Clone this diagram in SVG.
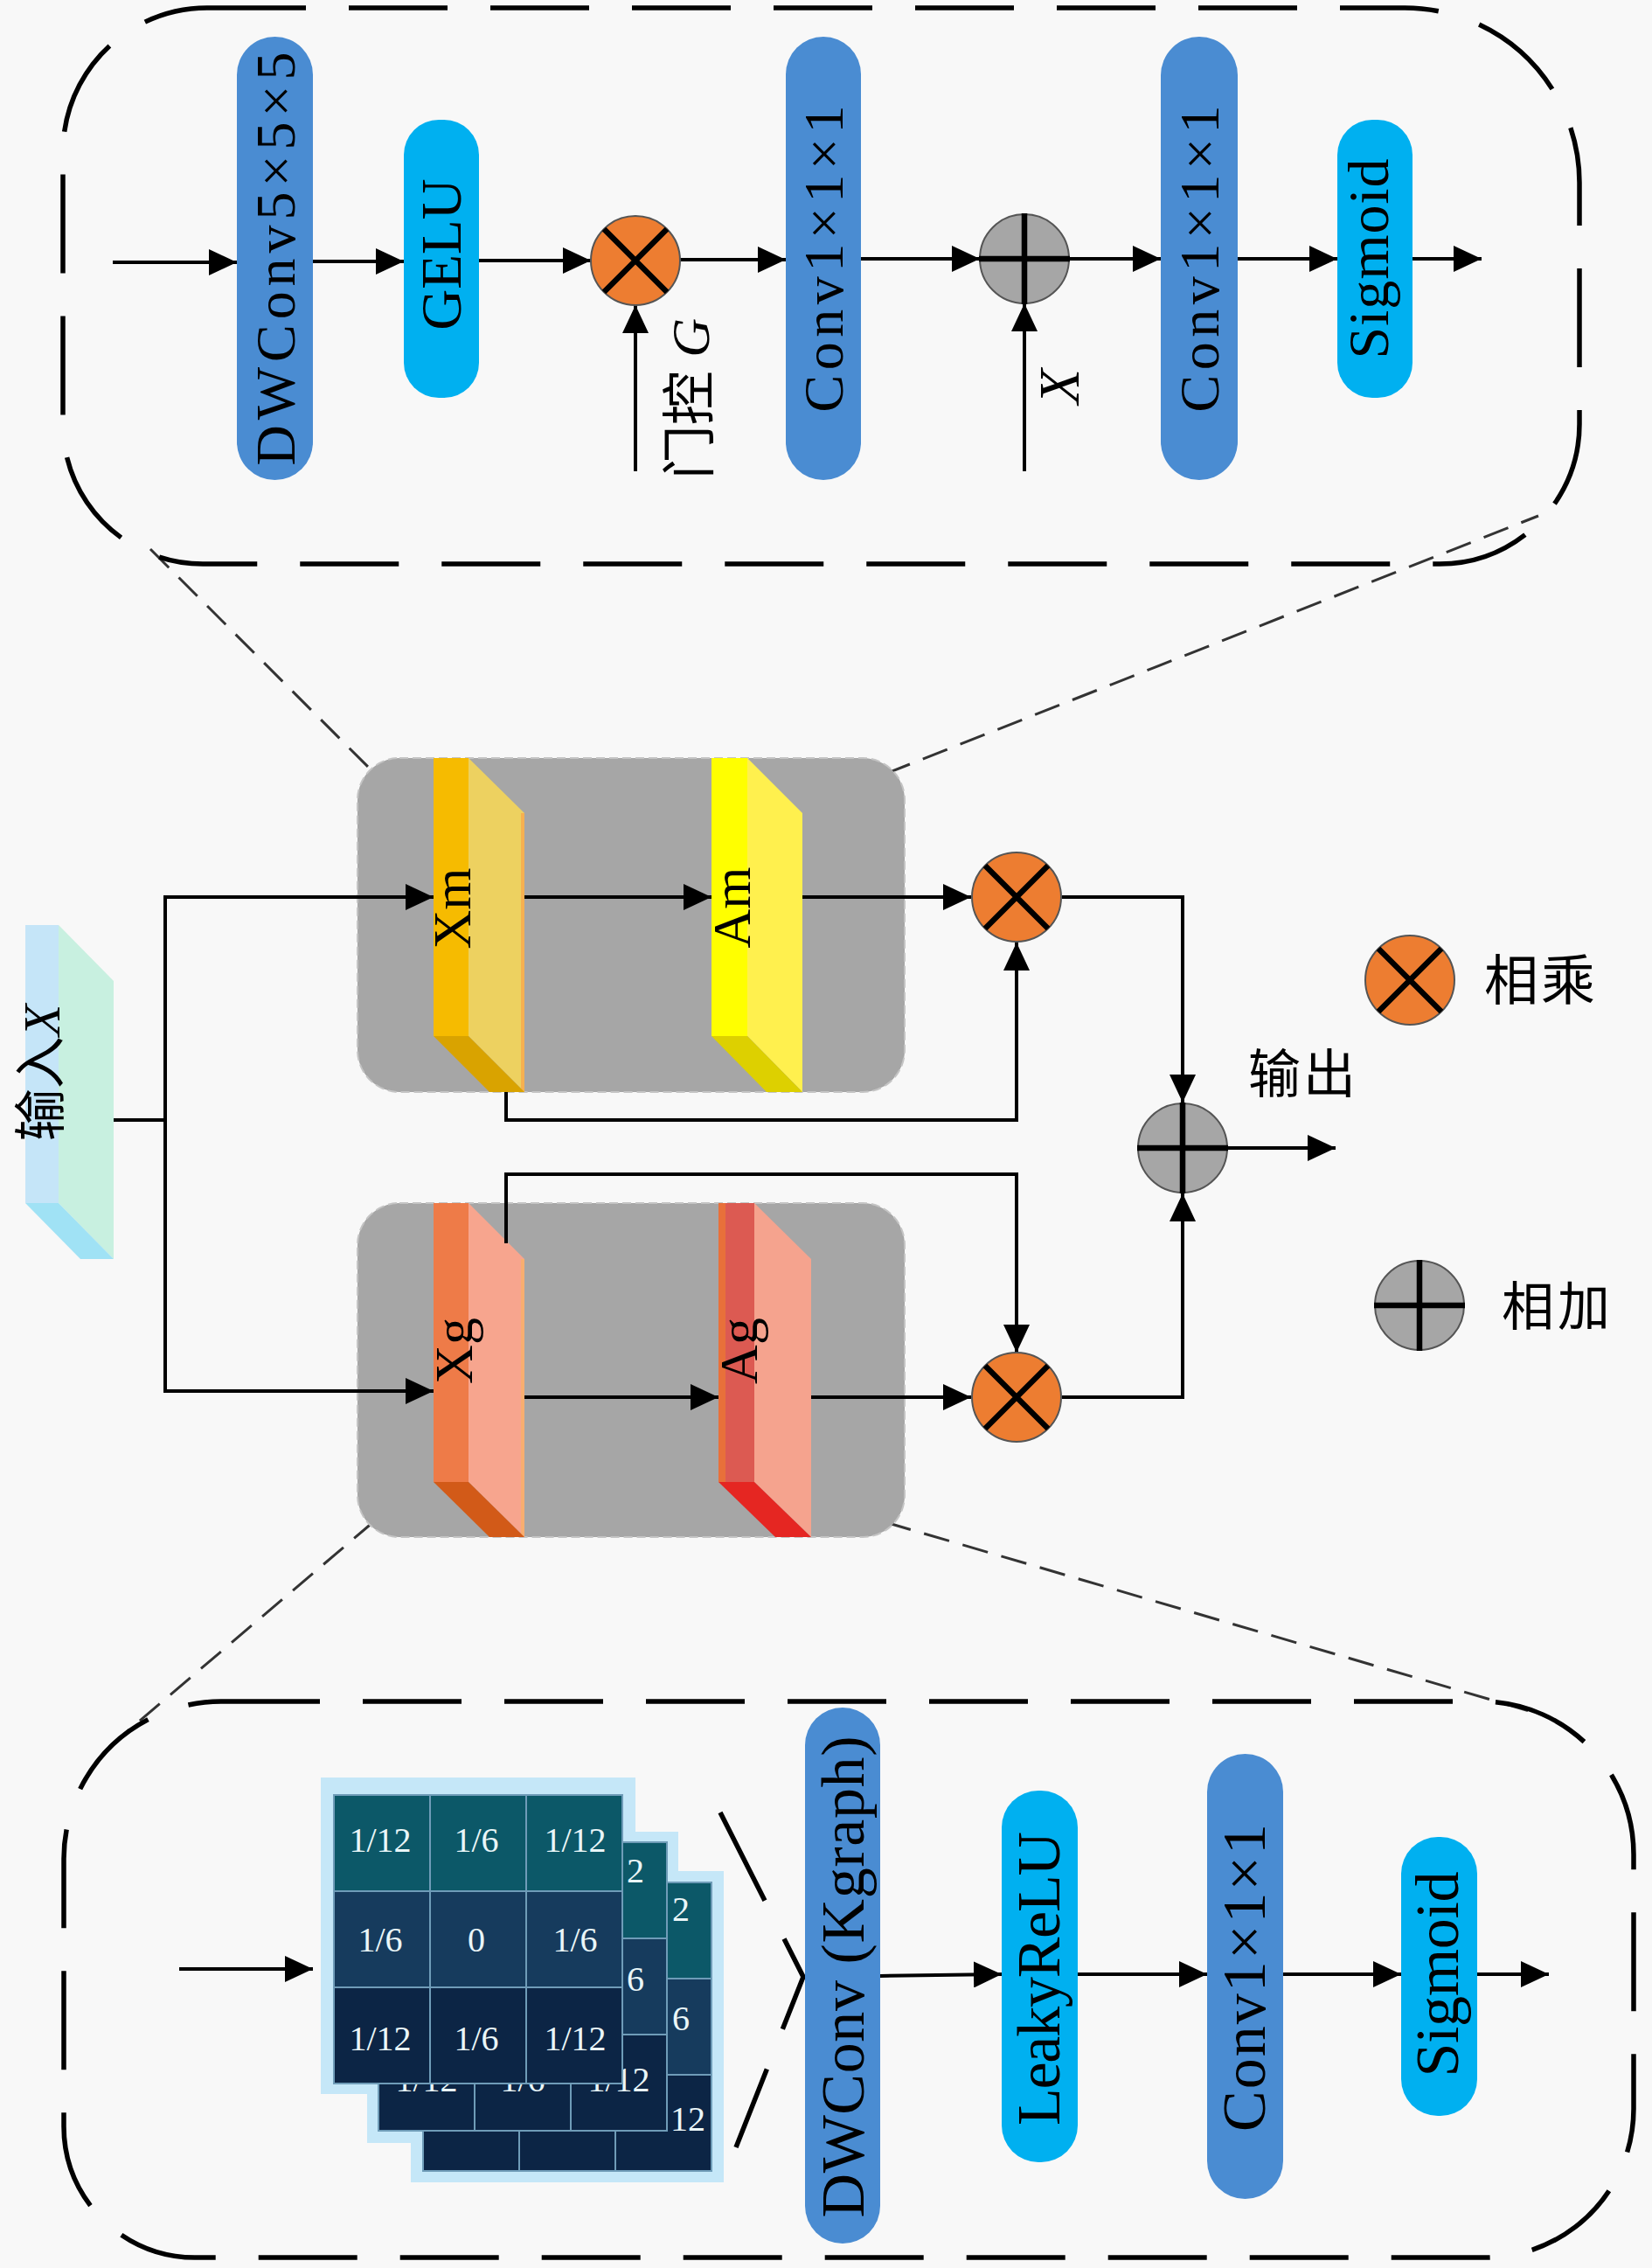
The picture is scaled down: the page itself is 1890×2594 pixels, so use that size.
<svg xmlns="http://www.w3.org/2000/svg" xmlns:xlink="http://www.w3.org/1999/xlink" width="1890" height="2594" viewBox="0 0 1890 2594">
<style>
.bg{fill:#f8f8f8}
.frame{fill:none;stroke:#000;stroke-width:5.5;stroke-dasharray:113 49}
.thin{fill:none;stroke:#333;stroke-width:3;stroke-dasharray:30 16}
.gray{fill:#a6a6a6;stroke:#c4c4c4;stroke-width:2;stroke-dasharray:10 5}
.conv{fill:#4a8cd2}
.act{fill:#00b0f0}
.ln{fill:none;stroke:#000;stroke-width:4}
.arr{fill:none;stroke:#000;stroke-width:4;marker-end:url(#ah)}
.mul{fill:#ed7d31;stroke:#555;stroke-width:2}
.add{fill:#a6a6a6;stroke:#555;stroke-width:2}
.sym{fill:none;stroke:#000;stroke-width:6.5}
.t{font-family:"Liberation Serif","Times New Roman",serif;fill:#000;text-anchor:middle}
.cjk{font-family:"Liberation Serif","Noto Sans CJK SC",serif;fill:#000}
.k{font-family:"Liberation Serif","Times New Roman",serif;font-size:40px;fill:#eaf6f8;text-anchor:middle}
.glow{fill:#c5e7f8}
.cell{stroke:#6f9cb8;stroke-width:2}
.r1{fill:#0c5868}.r2{fill:#163b5d}.r3{fill:#0c2545}
</style>
<defs>
<marker id="ah" viewBox="0 0 32 30" refX="32" refY="15" markerWidth="32" markerHeight="30" markerUnits="userSpaceOnUse" orient="auto"><path d="M0,0 L32,15 L0,30 z" fill="#000"/></marker>
<g id="mulSym"><circle r="51" class="mul"/><path d="M-36,-36 L36,36 M36,-36 L-36,36" class="sym"/></g>
<g id="addSym"><circle r="51" class="add"/><path d="M0,-52 V52 M-52,0 H52" class="sym"/></g>
</defs>
<rect class="bg" x="0" y="0" width="1890" height="2594"/>

<!-- zoom guide lines -->
<g id="guides">
<line class="thin" x1="172" y1="628" x2="430" y2="886"/>
<line class="thin" x1="1013" y1="885" x2="1760" y2="590"/>
<line class="thin" x1="428" y1="1740" x2="120" y2="2002"/>
<line class="thin" x1="1013" y1="1741" x2="1760" y2="1960"/>
</g>

<!-- frames -->
<path id="topFrame" class="frame" d="M 237,9 H 1607 A 200,200 0 0 1 1807,209 V 485 A 160,160 0 0 1 1647,645 H 232 A 160,160 0 0 1 72,485 V 174 A 165,165 0 0 1 237,9 Z"/>
<path id="bottomFrame" class="frame" d="M 253,1946 H 1694 A 175,175 0 0 1 1869,2121 V 2412 A 170,170 0 0 1 1699,2582 H 223 A 150,150 0 0 1 73,2432 V 2126 A 180,180 0 0 1 253,1946 Z"/>

<!-- gray modules -->
<rect id="upperModule" class="gray" x="409" y="867" width="626" height="382" rx="48"/>
<rect id="lowerModule" class="gray" x="409" y="1376" width="626" height="382" rx="48"/>

<!-- input slab -->
<g id="inputX">
<rect x="29" y="1058" width="38" height="318" fill="#c5e5f8"/>
<polygon points="67,1058 130,1122 130,1440 67,1376" fill="#c8f0e0"/>
<polygon points="29,1376 67,1376 130,1440 92,1440" fill="#a0e2f5"/>
<text class="cjk" font-size="60" text-anchor="middle" transform="translate(68,1227) rotate(-90)">输入<tspan font-style="italic">X</tspan></text>
</g>

<g id="Xm">
<rect x="496" y="867" width="40" height="318" fill="#f6bb00"/>
<polygon points="536,867 600,930 600,1249 536,1185" fill="#edd160"/>
<line x1="598" y1="930" x2="598" y2="1249" stroke="#f6b050" stroke-width="4"/>
<polygon points="496,1185 536,1185 600,1249 560,1249" fill="#d9a300"/>
<text class="t" font-size="62" transform="translate(538,1039) rotate(-90)">Xm</text>
</g>
<g id="Am">
<rect x="814" y="867" width="41" height="318" fill="#ffff00"/>
<polygon points="855,867 918,930 918,1249 855,1185" fill="#fff04e"/>
<polygon points="814,1185 855,1185 918,1249 877,1249" fill="#ddd000"/>
<text class="t" font-size="62" transform="translate(858,1038) rotate(-90)">Am</text>
</g>
<g id="Xg">
<rect x="496" y="1376" width="40" height="319" fill="#ee7b48"/>
<polygon points="536,1376 600,1440 600,1758 536,1695" fill="#f7a58e"/>
<line x1="598" y1="1440" x2="598" y2="1758" stroke="#f8ae70" stroke-width="4"/>
<polygon points="496,1695 536,1695 600,1758 560,1758" fill="#d25a18"/>
<text class="t" font-size="62" transform="translate(540,1545) rotate(-90)">Xg</text>
</g>
<g id="Ag">
<rect x="822" y="1376" width="41" height="319" fill="#dc5a52"/>
<rect x="822" y="1376" width="8" height="319" fill="#e8703a"/>
<polygon points="863,1376 928,1440 928,1758 863,1695" fill="#f5a38e"/>
<polygon points="822,1695 863,1695 928,1758 887,1758" fill="#e52622"/>
<text class="t" font-size="62" transform="translate(866,1545) rotate(-90)">Ag</text>
</g>

<!-- top module nodes -->
<g id="dwconv555">
<rect class="conv" x="271" y="42" width="87" height="507" rx="43.5"/>
<text class="t" font-size="64" textLength="473" lengthAdjust="spacing" transform="translate(337,296) rotate(-90)">DWConv5×5×5</text>
</g>
<g id="gelu">
<rect class="act" x="462" y="137" width="86" height="318" rx="40"/>
<text class="t" font-size="65" transform="translate(527,291) rotate(-90)">GELU</text>
</g>
<g id="conv1a">
<rect class="conv" x="899" y="42" width="86" height="507" rx="43"/>
<text class="t" font-size="64" textLength="351" lengthAdjust="spacing" transform="translate(964,296) rotate(-90)">Conv1×1×1</text>
</g>
<g id="conv1b">
<rect class="conv" x="1328" y="42" width="88" height="507" rx="44"/>
<text class="t" font-size="64" textLength="351" lengthAdjust="spacing" transform="translate(1394,296) rotate(-90)">Conv1×1×1</text>
</g>
<g id="sigmoidTop">
<rect class="act" x="1530" y="137" width="86" height="318" rx="40"/>
<text class="t" font-size="66" textLength="229" lengthAdjust="spacing" transform="translate(1588,296) rotate(-90)">Sigmoid</text>
</g>

<!-- bottom module nodes -->
<g id="kernel">
<rect class="glow" x="470" y="2140" width="358" height="356"/>
<rect class="glow" x="420" y="2095" width="356" height="356"/>
<rect class="glow" x="367" y="2033" width="360" height="362"/>
<g id="grid3">
<rect class="cell r1" x="484" y="2153" width="110" height="110"/><rect class="cell r1" x="594" y="2153" width="110" height="110"/><rect class="cell r1" x="704" y="2153" width="110" height="110"/>
<rect class="cell r2" x="484" y="2263" width="110" height="110"/><rect class="cell r2" x="594" y="2263" width="110" height="110"/><rect class="cell r2" x="704" y="2263" width="110" height="110"/>
<rect class="cell r3" x="484" y="2373" width="110" height="110"/><rect class="cell r3" x="594" y="2373" width="110" height="110"/><rect class="cell r3" x="704" y="2373" width="110" height="110"/>
<text class="k" x="779" y="2197">2</text>
<text class="k" x="779" y="2322">6</text>
<text class="k" x="787" y="2437">12</text>
</g>
<g id="grid2">
<rect class="cell r1" x="433" y="2107" width="110" height="110"/><rect class="cell r1" x="543" y="2107" width="110" height="110"/><rect class="cell r1" x="653" y="2107" width="110" height="110"/>
<rect class="cell r2" x="433" y="2217" width="110" height="110"/><rect class="cell r2" x="543" y="2217" width="110" height="110"/><rect class="cell r2" x="653" y="2217" width="110" height="110"/>
<rect class="cell r3" x="433" y="2327" width="110" height="110"/><rect class="cell r3" x="543" y="2327" width="110" height="110"/><rect class="cell r3" x="653" y="2327" width="110" height="110"/>
<text class="k" x="727" y="2153">2</text>
<text class="k" x="727" y="2277">6</text>
<text class="k" x="488" y="2392">1/12</text><text class="k" x="598" y="2392">1/6</text><text class="k" x="708" y="2392">1/12</text>
</g>
<g id="grid1">
<rect class="cell r1" x="382" y="2053" width="110" height="110"/><rect class="cell r1" x="492" y="2053" width="110" height="110"/><rect class="cell r1" x="602" y="2053" width="110" height="110"/>
<rect class="cell r2" x="382" y="2163" width="110" height="110"/><rect class="cell r2" x="492" y="2163" width="110" height="110"/><rect class="cell r2" x="602" y="2163" width="110" height="110"/>
<rect class="cell r3" x="382" y="2273" width="110" height="110"/><rect class="cell r3" x="492" y="2273" width="110" height="110"/><rect class="cell r3" x="602" y="2273" width="110" height="110"/>
<text class="k" x="435" y="2118">1/12</text><text class="k" x="545" y="2118">1/6</text><text class="k" x="658" y="2118">1/12</text>
<text class="k" x="435" y="2232">1/6</text><text class="k" x="545" y="2232">0</text><text class="k" x="658" y="2232">1/6</text>
<text class="k" x="435" y="2345">1/12</text><text class="k" x="545" y="2345">1/6</text><text class="k" x="658" y="2345">1/12</text>
</g>
</g>
<polyline id="chevron" class="frame" points="824,2073 919,2261 842,2456"/>
<g id="dwconvK">
<rect class="conv" x="921" y="1953" width="86" height="613" rx="43"/>
<text class="t" font-size="70" textLength="551" lengthAdjust="spacing" transform="translate(988,2261) rotate(-90)">DWConv (Kgraph)</text>
</g>
<g id="leakyrelu">
<rect class="act" x="1146" y="2048" width="87" height="425" rx="42"/>
<text class="t" font-size="70" textLength="336" lengthAdjust="spacing" transform="translate(1212,2263) rotate(-90)">LeakyReLU</text>
</g>
<g id="conv1c">
<rect class="conv" x="1381" y="2006" width="87" height="509" rx="43.5"/>
<text class="t" font-size="70" textLength="352" lengthAdjust="spacing" transform="translate(1447,2262) rotate(-90)">Conv1×1×1</text>
</g>
<g id="sigmoidBottom">
<rect class="act" x="1603" y="2101" width="87" height="319" rx="42"/>
<text class="t" font-size="70" textLength="235" lengthAdjust="spacing" transform="translate(1668,2258) rotate(-90)">Sigmoid</text>
</g>

<!-- connectors -->
<g id="connectors">
<line class="arr" x1="129" y1="300" x2="271" y2="300"/>
<line class="arr" x1="358" y1="299" x2="462" y2="299"/>
<line class="arr" x1="548" y1="298" x2="676" y2="298"/>
<line class="arr" x1="778" y1="297" x2="899" y2="297"/>
<line class="arr" x1="985" y1="296" x2="1121" y2="296"/>
<line class="arr" x1="1223" y1="296" x2="1328" y2="296"/>
<line class="arr" x1="1416" y1="296" x2="1530" y2="296"/>
<line class="arr" x1="1616" y1="296" x2="1695" y2="296"/>
<line class="arr" x1="727" y1="539" x2="727" y2="349"/>
<line class="arr" x1="1172" y1="539" x2="1172" y2="347"/>

<polyline class="ln" points="130,1281 189,1281"/>
<polyline class="ln" points="189,1026 189,1591"/>
<line class="arr" x1="187" y1="1026" x2="496" y2="1026"/>
<line class="arr" x1="187" y1="1591" x2="496" y2="1591"/>
<line class="arr" x1="600" y1="1026" x2="814" y2="1026"/>
<line class="arr" x1="918" y1="1026" x2="1111" y2="1026"/>
<polyline class="arr" points="579,1249 579,1281 1163,1281 1163,1078"/>
<polyline class="arr" points="579,1422 579,1343 1163,1343 1163,1547"/>
<line class="arr" x1="600" y1="1598" x2="822" y2="1598"/>
<line class="arr" x1="928" y1="1598" x2="1111" y2="1598"/>
<polyline class="arr" points="1215,1026 1353,1026 1353,1261"/>
<polyline class="arr" points="1215,1598 1353,1598 1353,1365"/>
<line class="arr" x1="1405" y1="1313" x2="1528" y2="1313"/>

<line class="arr" x1="205" y1="2252" x2="358" y2="2252"/>
<line class="arr" x1="1007" y1="2260" x2="1146" y2="2258"/>
<line class="arr" x1="1233" y1="2258" x2="1381" y2="2258"/>
<line class="arr" x1="1468" y1="2258" x2="1603" y2="2258"/>
<line class="arr" x1="1690" y1="2258" x2="1772" y2="2258"/>
</g>

<!-- operators -->
<g id="mulTop"><use xlink:href="#mulSym" x="727" y="298"/></g>
<g id="gateLabel"><text class="cjk" font-size="62" text-anchor="middle" transform="translate(811,456) rotate(-90)">门控 <tspan font-family="Liberation Serif" font-style="italic">G</tspan></text></g>
<g id="addTop"><use xlink:href="#addSym" x="1172" y="296"/></g>
<g id="xLabel"><text class="t" font-size="66" font-style="italic" transform="translate(1234,442) rotate(-90)">X</text></g>
<g id="mulUpper"><use xlink:href="#mulSym" x="1163" y="1026"/></g>
<g id="mulLower"><use xlink:href="#mulSym" x="1163" y="1598"/></g>
<g id="addOut"><use xlink:href="#addSym" x="1353" y="1313"/></g>
<g id="outLabel"><text class="cjk" font-size="60" x="1428" y="1250" letter-spacing="3">输出</text></g>

<!-- legend -->
<g id="legendMul"><use xlink:href="#mulSym" x="1613" y="1121"/><text class="cjk" font-size="62" x="1698" y="1144" letter-spacing="3">相乘</text></g>
<g id="legendAdd"><use xlink:href="#addSym" x="1624" y="1493"/><text class="cjk" font-size="60" x="1718" y="1516" letter-spacing="4">相加</text></g>
</svg>
